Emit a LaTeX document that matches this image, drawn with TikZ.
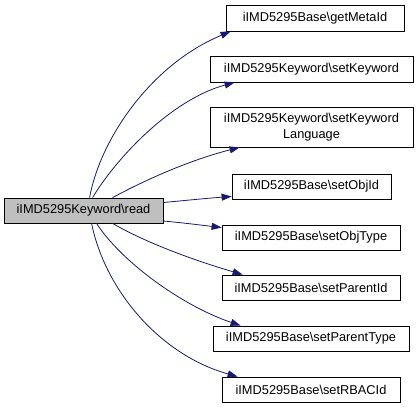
\documentclass[tikz,border=0pt]{standalone}
\usepackage{fontspec}
\setmainfont{Liberation Sans}
\usetikzlibrary{arrows.meta,calc}
\definecolor{edgeblue}{HTML}{191970}
\definecolor{nodegray}{HTML}{BFBFBF}
\begin{document}
\begin{tikzpicture}[x=1pt,y=-1pt,
  box/.style={draw=black, line width=0.8pt, rectangle, minimum height=25pt, inner sep=0pt,
    font=\fontsize{12.8}{15.5}\selectfont, align=center},
  call/.style={draw=edgeblue, line width=0.8pt, -{Triangle[length=10pt,width=7pt]}}]
\useasboundingbox (0,0) rectangle (417,408);
\node[box, fill=nodegray, minimum width=159pt] (read) at (83.5,210.5) {iIMD5295Keyword\textbackslash read};
\node[box, minimum width=178pt, minimum height=26pt] (meta) at (315,18) {iIMD5295Base\textbackslash getMetaId};
\node[box, minimum width=203pt, minimum height=26pt] (kw) at (311.5,69) {iIMD5295Keyword\textbackslash setKeyword};
\node[box, minimum width=203pt, minimum height=40pt] (kwl) at (311.5,127) {iIMD5295Keyword\textbackslash setKeyword\\Language};
\node[box, minimum width=159pt] (oid) at (311.5,186.5) {iIMD5295Base\textbackslash setObjId};
\node[box, minimum width=178pt] (otype) at (311,237.5) {iIMD5295Base\textbackslash setObjType};
\node[box, minimum width=178pt] (pid) at (311,287.5) {iIMD5295Base\textbackslash setParentId};
\node[box, minimum width=196pt] (ptype) at (311,338.5) {iIMD5295Base\textbackslash setParentType};
\node[box, minimum width=178pt] (rbac) at (311,389.5) {iIMD5295Base\textbackslash setRBACId};
\draw[call] ($(read.north west)+(86,0)$) .. controls (100,140) and (150,65) .. ($(meta.south west)+(5,0)$);
\draw[call] ($(read.north west)+(89,0)$) .. controls (115,160) and (170,100) .. ($(kw.south west)+(25,0)$);
\draw[call] ($(read.north west)+(109,0)$) .. controls (145,180) and (190,160) .. ($(kwl.south west)+(30,0)$);
\draw[call] ($(read.east)+(0,-8)$) .. controls (190,200) and (210,198) .. ($(oid.west)+(0,10)$);
\draw[call] ($(read.east)+(0,10.5)$) .. controls (185,223) and (200,225) .. ($(otype.west)+(0,-10)$);
\draw[call] ($(read.south west)+(109,0)$) .. controls (150,245) and (200,262) .. ($(pid.north west)+(21,0)$);
\draw[call] ($(read.south west)+(93,0)$) .. controls (120,260) and (180,305) .. ($(ptype.north west)+(28,0)$);
\draw[call] ($(read.south west)+(88,0)$) .. controls (105,290) and (160,355) .. ($(rbac.north west)+(16,0)$);
\end{tikzpicture}
\end{document}
